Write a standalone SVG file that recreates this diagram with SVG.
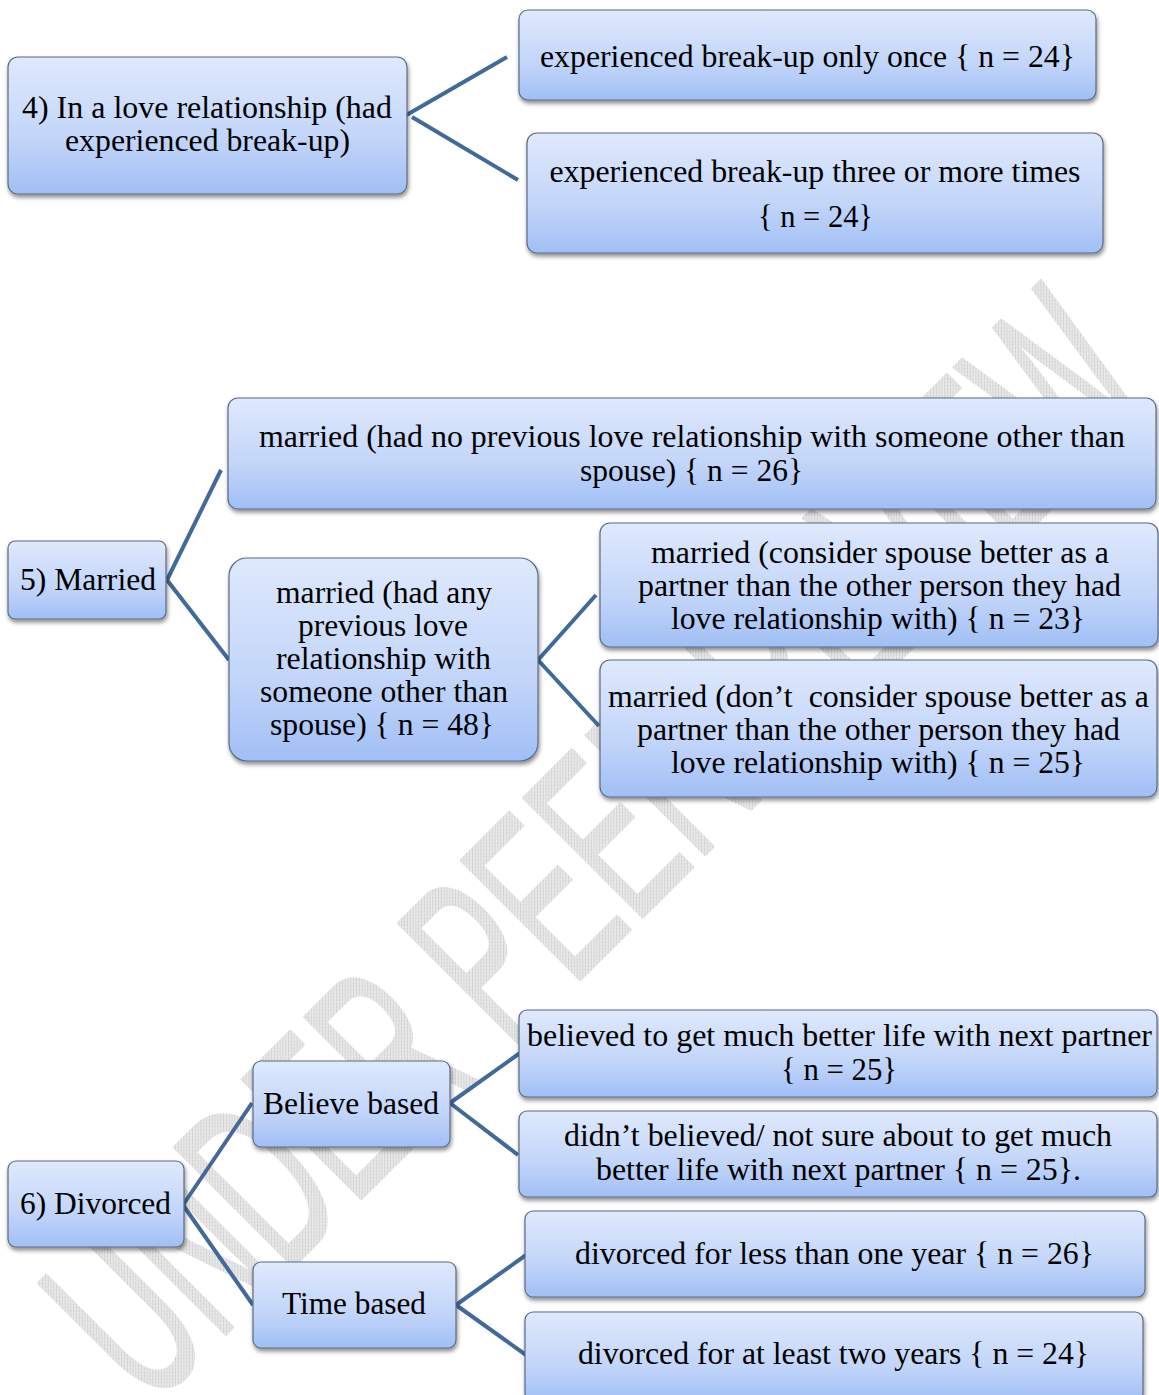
<svg xmlns="http://www.w3.org/2000/svg" width="1159" height="1395" viewBox="0 0 1159 1395">
<defs>
<linearGradient id="g" x1="0" y1="0" x2="0" y2="1">
<stop offset="0" stop-color="#dfe9fc"/>
<stop offset="0.6" stop-color="#c2d5f9"/>
<stop offset="1" stop-color="#a0bff5"/>
</linearGradient>
<filter id="sh" x="-5%" y="-10%" width="110%" height="130%">
<feDropShadow dx="1" dy="3" stdDeviation="2" flood-color="#000" flood-opacity="0.45"/>
</filter>
<pattern id="hatch" width="4" height="4" patternUnits="userSpaceOnUse">
<rect width="4" height="4" fill="#e8e8e8"/>
<path d="M0,4 L4,0" stroke="#cccccc" stroke-width="1"/>
</pattern>
</defs>
<style>
.box{fill:url(#g);stroke:#5b6b85;stroke-width:1.2;filter:url(#sh)}
.t{font-family:"Liberation Serif","Times New Roman",serif;font-size:32px;fill:#000;text-anchor:middle}
.c{fill:none;stroke:#41699a;stroke-width:4;stroke-linecap:butt}
.wm{font-family:"Liberation Sans",Arial,sans-serif;font-size:245px;fill:url(#hatch);stroke:url(#hatch);stroke-width:3;stroke-linejoin:round}
</style>
<rect width="1159" height="1395" fill="#fff"/>
<text class="wm" x="150" y="1410" transform="rotate(-45 150 1410)" textLength="1430" lengthAdjust="spacingAndGlyphs">UNDER PEER REVIEW</text>
<g id="connectors">
<line class="c" x1="403" y1="117" x2="507" y2="57"/>
<line class="c" x1="412" y1="117" x2="518" y2="180"/>
<line class="c" x1="167" y1="580" x2="221" y2="470"/>
<line class="c" x1="167" y1="580" x2="229" y2="660"/>
<line class="c" x1="538" y1="660" x2="596" y2="595"/>
<line class="c" x1="538" y1="660" x2="599" y2="726"/>
<line class="c" x1="183" y1="1205" x2="252" y2="1103"/>
<line class="c" x1="183" y1="1205" x2="253" y2="1305"/>
<line class="c" x1="450" y1="1103" x2="520" y2="1053"/>
<line class="c" x1="450" y1="1103" x2="518" y2="1155"/>
<line class="c" x1="456" y1="1305" x2="526" y2="1255"/>
<line class="c" x1="456" y1="1305" x2="526" y2="1355"/>
</g>
<g id="n4">
<rect class="box" x="8" y="57" width="399" height="137" rx="10"/>
<text class="t" x="207" y="118" textLength="370" lengthAdjust="spacingAndGlyphs">4) In a love relationship (had</text>
<text class="t" x="207.5" y="151" textLength="285" lengthAdjust="spacingAndGlyphs">experienced break-up)</text>
</g>
<g id="n4a">
<rect class="box" x="519" y="10" width="577" height="90" rx="9"/>
<text class="t" x="807.5" y="67" textLength="535" lengthAdjust="spacingAndGlyphs">experienced break-up only once { n = 24}</text>
</g>
<g id="n4b">
<rect class="box" x="527" y="133" width="576" height="120" rx="10"/>
<text class="t" x="815" y="182" textLength="531" lengthAdjust="spacingAndGlyphs">experienced break-up three or more times</text>
<text class="t" x="815.5" y="227" textLength="115" lengthAdjust="spacingAndGlyphs">{ n = 24}</text>
</g>
<g id="n5">
<rect class="box" x="8" y="541" width="158" height="78" rx="7"/>
<text class="t" x="88" y="590" textLength="136" lengthAdjust="spacingAndGlyphs">5) Married</text>
</g>
<g id="n5a">
<rect class="box" x="228" y="398" width="928" height="111" rx="10"/>
<text class="t" x="692" y="447" textLength="866" lengthAdjust="spacingAndGlyphs">married (had no previous love relationship with someone other than</text>
<text class="t" x="691.5" y="481" textLength="223" lengthAdjust="spacingAndGlyphs">spouse) { n = 26}</text>
</g>
<g id="n5b">
<rect class="box" x="229" y="558" width="309" height="203" rx="18"/>
<text class="t" x="384" y="603" textLength="216" lengthAdjust="spacingAndGlyphs">married (had any</text>
<text class="t" x="383" y="636" textLength="170" lengthAdjust="spacingAndGlyphs">previous love</text>
<text class="t" x="383.5" y="669" textLength="215" lengthAdjust="spacingAndGlyphs">relationship with</text>
<text class="t" x="384" y="702" textLength="248" lengthAdjust="spacingAndGlyphs">someone other than</text>
<text class="t" x="382" y="735" textLength="224" lengthAdjust="spacingAndGlyphs">spouse) { n = 48}</text>
</g>
<g id="n5b1">
<rect class="box" x="600" y="523" width="558" height="124" rx="10"/>
<text class="t" x="880" y="563" textLength="458" lengthAdjust="spacingAndGlyphs">married (consider spouse better as a</text>
<text class="t" x="879.5" y="596" textLength="483" lengthAdjust="spacingAndGlyphs">partner than the other person they had</text>
<text class="t" x="878" y="629" textLength="414" lengthAdjust="spacingAndGlyphs">love relationship with) { n = 23}</text>
</g>
<g id="n5b2">
<rect class="box" x="600" y="660" width="557" height="137" rx="10"/>
<text class="t" x="878.5" y="707" textLength="541" lengthAdjust="spacingAndGlyphs" xml:space="preserve">married (don’t  consider spouse better as a</text>
<text class="t" x="878.5" y="740" textLength="483" lengthAdjust="spacingAndGlyphs">partner than the other person they had</text>
<text class="t" x="878" y="773" textLength="414" lengthAdjust="spacingAndGlyphs">love relationship with) { n = 25}</text>
</g>
<g id="n6">
<rect class="box" x="8" y="1161" width="176" height="86" rx="8"/>
<text class="t" x="95.5" y="1214" textLength="151" lengthAdjust="spacingAndGlyphs">6) Divorced</text>
</g>
<g id="n6a">
<rect class="box" x="253" y="1061" width="197" height="86" rx="8"/>
<text class="t" x="351" y="1114" textLength="176" lengthAdjust="spacingAndGlyphs">Believe based</text>
</g>
<g id="n6b">
<rect class="box" x="253" y="1262" width="203" height="86" rx="8"/>
<text class="t" x="354" y="1314" textLength="144" lengthAdjust="spacingAndGlyphs">Time based</text>
</g>
<g id="n6a1">
<rect class="box" x="519" y="1010" width="638" height="87" rx="8"/>
<text class="t" x="839.5" y="1046" textLength="625" lengthAdjust="spacingAndGlyphs">believed to get much better life with next partner</text>
<text class="t" x="839" y="1080" textLength="116" lengthAdjust="spacingAndGlyphs">{ n = 25}</text>
</g>
<g id="n6a2">
<rect class="box" x="519" y="1111" width="638" height="86" rx="8"/>
<text class="t" x="838" y="1146" textLength="548" lengthAdjust="spacingAndGlyphs">didn’t believed/ not sure about to get much</text>
<text class="t" x="838.5" y="1180" textLength="485" lengthAdjust="spacingAndGlyphs">better life with next partner { n = 25}.</text>
</g>
<g id="n6b1">
<rect class="box" x="525" y="1211" width="620" height="86" rx="8"/>
<text class="t" x="834.5" y="1264" textLength="519" lengthAdjust="spacingAndGlyphs">divorced for less than one year { n = 26}</text>
</g>
<g id="n6b2">
<rect class="box" x="525" y="1312" width="618" height="90" rx="8"/>
<text class="t" x="833.5" y="1364" textLength="511" lengthAdjust="spacingAndGlyphs">divorced for at least two years { n = 24}</text>
</g>
</svg>
